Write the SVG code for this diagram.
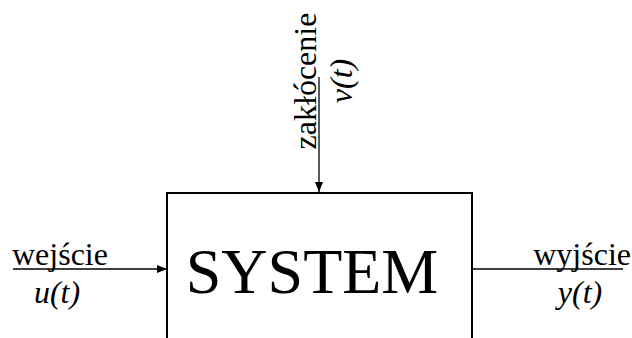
<svg xmlns="http://www.w3.org/2000/svg" width="632" height="338" viewBox="0 0 632 338">
<defs>
<marker id="ah" markerWidth="10" markerHeight="8" refX="10" refY="4" orient="auto" markerUnits="userSpaceOnUse">
<path d="M0,0 L10,4 L0,8 Z" fill="#000"/>
</marker>
</defs>
<rect width="632" height="338" fill="#fff"/>
<g id="system">
<rect x="167" y="193" width="305" height="200" fill="none" stroke="#000" stroke-width="2"/>
<text x="312" y="293" font-family="Liberation Serif" font-size="64" text-anchor="middle">SYSTEM</text>
</g>
<g id="input">
<text x="12" y="265" font-family="Liberation Serif" font-size="32">wejście</text>
<text x="57" y="303" font-family="Liberation Serif" font-size="32" font-style="italic" text-anchor="middle">u(t)</text>
</g>
<g id="output">
<text x="631" y="265" font-family="Liberation Serif" font-size="32" text-anchor="end">wyjście</text>
<text x="580" y="303" font-family="Liberation Serif" font-size="32" font-style="italic" text-anchor="middle">y(t)</text>
</g>
<g id="disturbance">
<text transform="translate(316,81) rotate(-90)" font-family="Liberation Serif" font-size="32" text-anchor="middle">zakłócenie</text>
<text transform="translate(352,81) rotate(-90)" font-family="Liberation Serif" font-size="32" font-style="italic" text-anchor="middle">v(t)</text>
</g>
<g id="connectors" stroke="#000" stroke-width="1.3" fill="none">
<line x1="13" y1="269" x2="167" y2="269" marker-end="url(#ah)"/>
<line x1="472" y1="269" x2="623" y2="269"/>
<line x1="319" y1="77" x2="319" y2="192" marker-end="url(#ah)"/>
</g>
</svg>
